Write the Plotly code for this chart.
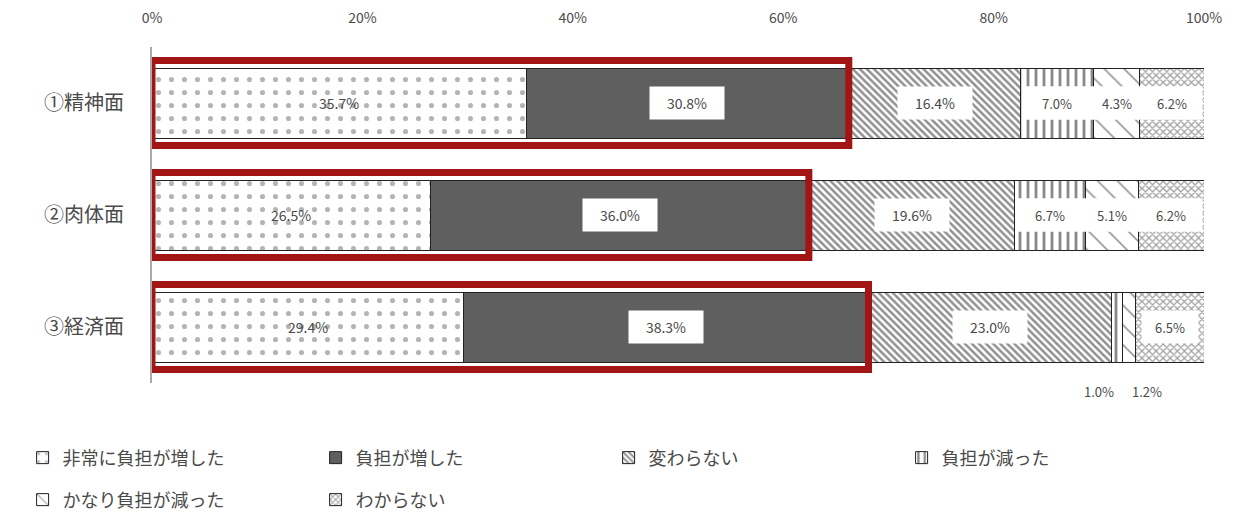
import plotly.graph_objects as go

categories = ["①精神面", "②肉体面", "③経済面"]
series_names = ["非常に負担が増した", "負担が増した", "変わらない",
                "負担が減った", "かなり負担が減った", "わからない"]
very_increased = [35.7, 26.5, 29.4]
increased = [30.8, 36.0, 38.3]
unchanged = [16.4, 19.6, 23.0]
decreased = [7.0, 6.7, 1.0]
much_decreased = [4.3, 5.1, 1.2]
unknown = [6.2, 6.2, 6.5]
x_ticks = [0, 20, 40, 60, 80, 100]
x_ticktext = ["0%", "20%", "40%", "60%", "80%", "100%"]

series = [very_increased, increased, unchanged, decreased, much_decreased, unknown]

styles = [
    dict(color="white", pattern=dict(shape=".", fgcolor="#6a6a6a", bgcolor="white", size=13, solidity=0.12)),
    dict(color="#5f5f5f"),
    dict(color="white", pattern=dict(shape="\\", fgcolor="#222222", bgcolor="white", size=5, solidity=0.5)),
    dict(color="white", pattern=dict(shape="|", fgcolor="#111111", bgcolor="white", size=8, solidity=0.35)),
    dict(color="white", pattern=dict(shape="\\", fgcolor="#333333", bgcolor="white", size=14, solidity=0.12)),
    dict(color="white", pattern=dict(shape="x", fgcolor="#444444", bgcolor="white", size=5, solidity=0.45)),
]

FONT = "Noto Sans CJK JP"
TXT = "#4a4a4a"

fig = go.Figure()
for i, (name, vals, st) in enumerate(zip(series_names, series, styles)):
    fig.add_trace(go.Bar(
        y=categories, x=vals, name=name, orientation="h",
        marker=dict(**st, line=dict(color="#222222", width=1)),
        legend="legend" if i < 4 else "legend2",
        hoverinfo="x+name",
    ))

# normalized cumulative positions (100% stacked)
shapes = []
annotations = []
band_rows = [0, 1]
below_rows = [2]
for r, cat in enumerate(categories):
    vals = [s[r] for s in series]
    tot = sum(vals)
    norm = [v / tot * 100 for v in vals]
    cum = [0]
    for v in norm:
        cum.append(cum[-1] + v)
    # red highlight box around first two segments
    shapes.append(dict(type="rect", xref="x", yref="y", x0=0, x1=cum[2],
                       y0=r - 0.38, y1=r + 0.38, line=dict(color="#a31515", width=7),
                       fillcolor="rgba(0,0,0,0)", layer="above"))
    if r in band_rows:
        shapes.append(dict(type="rect", xref="x", yref="y", x0=cum[3] + 0.15, x1=cum[6] - 0.15,
                           y0=r - 0.15, y1=r + 0.15, line=dict(width=0),
                           fillcolor="white", layer="above"))
    for k in range(6):
        mid = (cum[k] + cum[k + 1]) / 2
        txt = f"{vals[k]:.1f}%"
        if k == 0:
            annotations.append(dict(x=mid, y=r, xref="x", yref="y", text=txt, showarrow=False,
                                    font=dict(family=FONT, size=14, color=TXT)))
        elif k in (1, 2):
            annotations.append(dict(x=mid, y=r, xref="x", yref="y", text=txt, showarrow=False,
                                    bgcolor="white", width=72, height=30,
                                    font=dict(family=FONT, size=14, color=TXT)))
        else:
            if r in below_rows and k in (3, 4):
                annotations.append(dict(x=mid, y=r + 0.45, xref="x", yref="y", text=txt,
                                        showarrow=False, xshift=-18 if k == 3 else 18, yshift=-14,
                                        font=dict(family=FONT, size=13, color=TXT)))
            elif r in below_rows:
                annotations.append(dict(x=mid, y=r, xref="x", yref="y", text=txt, showarrow=False,
                                        bgcolor="white", width=54, height=30,
                                        font=dict(family=FONT, size=13, color=TXT)))
            else:
                annotations.append(dict(x=mid, y=r, xref="x", yref="y", text=txt, showarrow=False,
                                        font=dict(family=FONT, size=13, color=TXT)))

legend_common = dict(orientation="h", font=dict(family=FONT, size=18, color=TXT),
                     bgcolor="rgba(0,0,0,0)", entrywidth=248, entrywidthmode="pixels",
                     xanchor="left", yanchor="middle", traceorder="normal")

fig.update_layout(
    width=1234, height=516,
    margin=dict(l=152, r=30, t=47, b=133, autoexpand=False),
    paper_bgcolor="white", plot_bgcolor="white",
    barmode="stack", barnorm="percent", bargap=0.375,
    font=dict(family=FONT, color=TXT),
    xaxis=dict(range=[0, 100], side="top", tickvals=x_ticks, ticktext=x_ticktext,
               showgrid=False, zeroline=False, showline=False, ticks="",
               tickfont=dict(family=FONT, size=14, color=TXT), ticklabelstandoff=20),
    yaxis=dict(type="category", categoryorder="array", categoryarray=categories,
               range=[2.5, -0.5], showgrid=False, zeroline=False,
               showline=True, linecolor="#aaaaaa", linewidth=2, ticks="",
               tickfont=dict(family=FONT, size=20, color=TXT), ticklabelstandoff=22),
    legend=dict(**legend_common, x=-0.123, y=-0.223),
    legend2=dict(**legend_common, x=-0.123, y=-0.348),
    shapes=shapes,
    annotations=annotations,
    showlegend=True,
)

fig.write_html("out.html")
